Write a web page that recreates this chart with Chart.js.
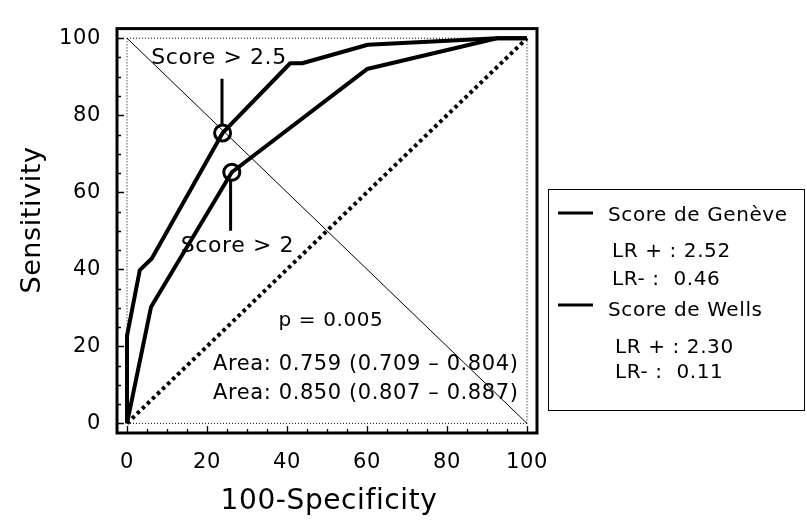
<!DOCTYPE html>
<html>
<head>
<meta charset="utf-8">
<script src="https://cdn.jsdelivr.net/npm/chart.js@4/dist/chart.umd.min.js"></script>
<style>
  html, body { margin: 0; padding: 0; background: #fff; }
  #roc { display: block; }
</style>
</head>
<body>
<canvas id="roc" width="807" height="525"></canvas>
<script>
// ROC curves: 100-Specificity (x) vs Sensitivity (y)
const tickValues = [0, 20, 40, 60, 80, 100];

const genevaX = [0, 6, 26.2, 60, 92.5, 100];
const genevaY = [0, 30.2, 65.2, 92, 100, 100];

const wellsX = [0, 0, 3.2, 6.2, 23.9, 40.8, 43.8, 60.2, 92.5, 100];
const wellsY = [0, 22.7, 39.8, 42.8, 75.4, 93.5, 93.5, 98.3, 100, 100];

// operating points marked with circles
const cutX = [23.9, 26.2];
const cutY = [75.4, 65.2];
const cutLabels = ['Score > 2.5', 'Score > 2'];

const seriesNames = ['Score de Genève', 'Score de Wells'];
const lrPos = ['2.52', '2.30'];
const lrNeg = ['0.46', '0.11'];

const pText = 'p = 0.005';
const areaTexts = ['Area: 0.759 (0.709 – 0.804)', 'Area: 0.850 (0.807 – 0.887)'];

const pts = (xs, ys) => xs.map((x, i) => ({ x, y: ys[i] }));

const FONT = '"DejaVu Sans", sans-serif';

const decorations = {
  id: 'decorations',
  beforeDraw(chart) {
    chart.ctx.letterSpacing = '0.6px';
  },
  afterDatasetsDraw(chart) {
    const { ctx, chartArea: a, scales: { x, y } } = chart;
    ctx.save();
    // frame
    ctx.strokeStyle = '#000';
    ctx.lineWidth = 3;
    ctx.strokeRect(a.left, a.top, a.right - a.left, a.bottom - a.top);
    // inward ticks every 5 units, longer at labelled values
    ctx.lineWidth = 1.3;
    ctx.beginPath();
    for (let v = 0; v <= 100; v += 5) {
      const len = v % 20 === 0 ? 7 : 4;
      const px = Math.round(x.getPixelForValue(v)) + 0.5;
      ctx.moveTo(px, a.bottom);
      ctx.lineTo(px, a.bottom - len);
      const py = Math.round(y.getPixelForValue(v)) + 0.5;
      ctx.moveTo(a.left, py);
      ctx.lineTo(a.left + len, py);
    }
    ctx.stroke();

    // marker leader lines
    ctx.lineWidth = 3;
    ctx.beginPath();
    ctx.moveTo(x.getPixelForValue(23.75), y.getPixelForValue(89.5));
    ctx.lineTo(x.getPixelForValue(23.75), y.getPixelForValue(77.4));
    ctx.moveTo(x.getPixelForValue(25.9), y.getPixelForValue(63.2));
    ctx.lineTo(x.getPixelForValue(25.9), y.getPixelForValue(50));
    ctx.stroke();

    ctx.fillStyle = '#000';
    ctx.textBaseline = 'middle';
    // marker labels
    ctx.font = '22px ' + FONT;
    ctx.textAlign = 'center';
    ctx.fillText(cutLabels[0], x.getPixelForValue(23), y.getPixelForValue(94.7));
    ctx.fillText(cutLabels[1], x.getPixelForValue(27.6), y.getPixelForValue(46));

    ctx.font = '20px ' + FONT;
    ctx.fillText(pText, x.getPixelForValue(51), y.getPixelForValue(26.7));
    ctx.font = '21px ' + FONT;
    ctx.textAlign = 'left';
    ctx.fillText(areaTexts[0], x.getPixelForValue(21.5), y.getPixelForValue(15.2));
    ctx.fillText(areaTexts[1], x.getPixelForValue(21.5), y.getPixelForValue(7.7));

    // axis titles
    ctx.font = '28px ' + FONT;
    ctx.textAlign = 'center';
    ctx.fillText('100-Specificity', (a.left + a.right) / 2 + 2, 502);
    ctx.font = '27px ' + FONT;
    ctx.save();
    ctx.translate(33, 220);
    ctx.rotate(-Math.PI / 2);
    ctx.fillText('Sensitivity', 0, 0);
    ctx.restore();

    // legend box
    ctx.lineWidth = 1;
    ctx.strokeRect(548.5, 189.5, 256, 221);
    const rows = [213, 305];
    ctx.font = '20px ' + FONT;
    ctx.textAlign = 'left';
    seriesNames.forEach((name, i) => {
      const ry = rows[i];
      ctx.lineWidth = 3;
      ctx.beginPath();
      ctx.moveTo(558, ry);
      ctx.lineTo(593, ry);
      ctx.stroke();
      ctx.fillText(name, 608, ry + 3 + i * 3);
      const indent = 612 + i * 3;
      ctx.fillText('LR + : ' + lrPos[i], indent, ry + 39 + i * 4);
      ctx.fillText('LR- :  ' + lrNeg[i], indent, ry + 67 + i * 1);
    });
    ctx.restore();
  }
};

const thinDotted = (data) => ({
  data, borderColor: '#000', borderWidth: 1, borderDash: [1, 2],
  pointRadius: 0, showLine: true, fill: false
});

new Chart(document.getElementById('roc'), {
  type: 'scatter',
  data: {
    datasets: [
      thinDotted([{ x: 0, y: 0 }, { x: 0, y: 100 }]),
      thinDotted([{ x: 100, y: 0 }, { x: 100, y: 100 }]),
      thinDotted([{ x: 0, y: 0 }, { x: 100, y: 0 }]),
      thinDotted([{ x: 0, y: 100 }, { x: 100, y: 100 }]),
      {
        data: [{ x: 0, y: 100 }, { x: 100, y: 0 }],
        borderColor: '#000', borderWidth: 1, pointRadius: 0, showLine: true
      },
      {
        data: [{ x: 0, y: 0 }, { x: 100, y: 100 }],
        borderColor: '#000', borderWidth: 4, borderDash: [3.5, 3.5],
        pointRadius: 0, showLine: true
      },
      {
        label: seriesNames[0], data: pts(genevaX, genevaY),
        borderColor: '#000', borderWidth: 4, pointRadius: 0, showLine: true,
        borderJoinStyle: 'round'
      },
      {
        label: seriesNames[1], data: pts(wellsX, wellsY),
        borderColor: '#000', borderWidth: 4, pointRadius: 0, showLine: true,
        borderJoinStyle: 'round'
      },
      {
        data: pts(cutX, cutY), showLine: false,
        pointStyle: 'circle', pointRadius: 8, pointBorderWidth: 3,
        pointBorderColor: '#000', pointBackgroundColor: 'rgba(0,0,0,0)'
      }
    ]
  },
  options: {
    responsive: false,
    devicePixelRatio: 1,
    animation: false,
    events: [],
    layout: { padding: { top: 15, right: 270, left: 0, bottom: 0 } },
    plugins: { legend: { display: false }, tooltip: { enabled: false } },
    scales: {
      x: {
        type: 'linear', min: -2.5, max: 102.5,
        afterBuildTicks: (s) => { s.ticks = tickValues.map(v => ({ value: v })); },
        afterFit: (s) => { s.height = 92; },
        grid: { display: false, drawTicks: false },
        border: { display: false },
        ticks: { color: '#000', font: { family: 'DejaVu Sans', size: 21 }, padding: 17, maxRotation: 0 }
      },
      y: {
        type: 'linear', min: -2.5, max: 102.5,
        afterBuildTicks: (s) => { s.ticks = tickValues.map(v => ({ value: v })); },
        afterFit: (s) => { s.width = 117; },
        grid: { display: false, drawTicks: false },
        border: { display: false },
        ticks: { color: '#000', font: { family: 'DejaVu Sans', size: 21 }, padding: 16 }
      }
    }
  },
  plugins: [decorations]
});
</script>
</body>
</html>
